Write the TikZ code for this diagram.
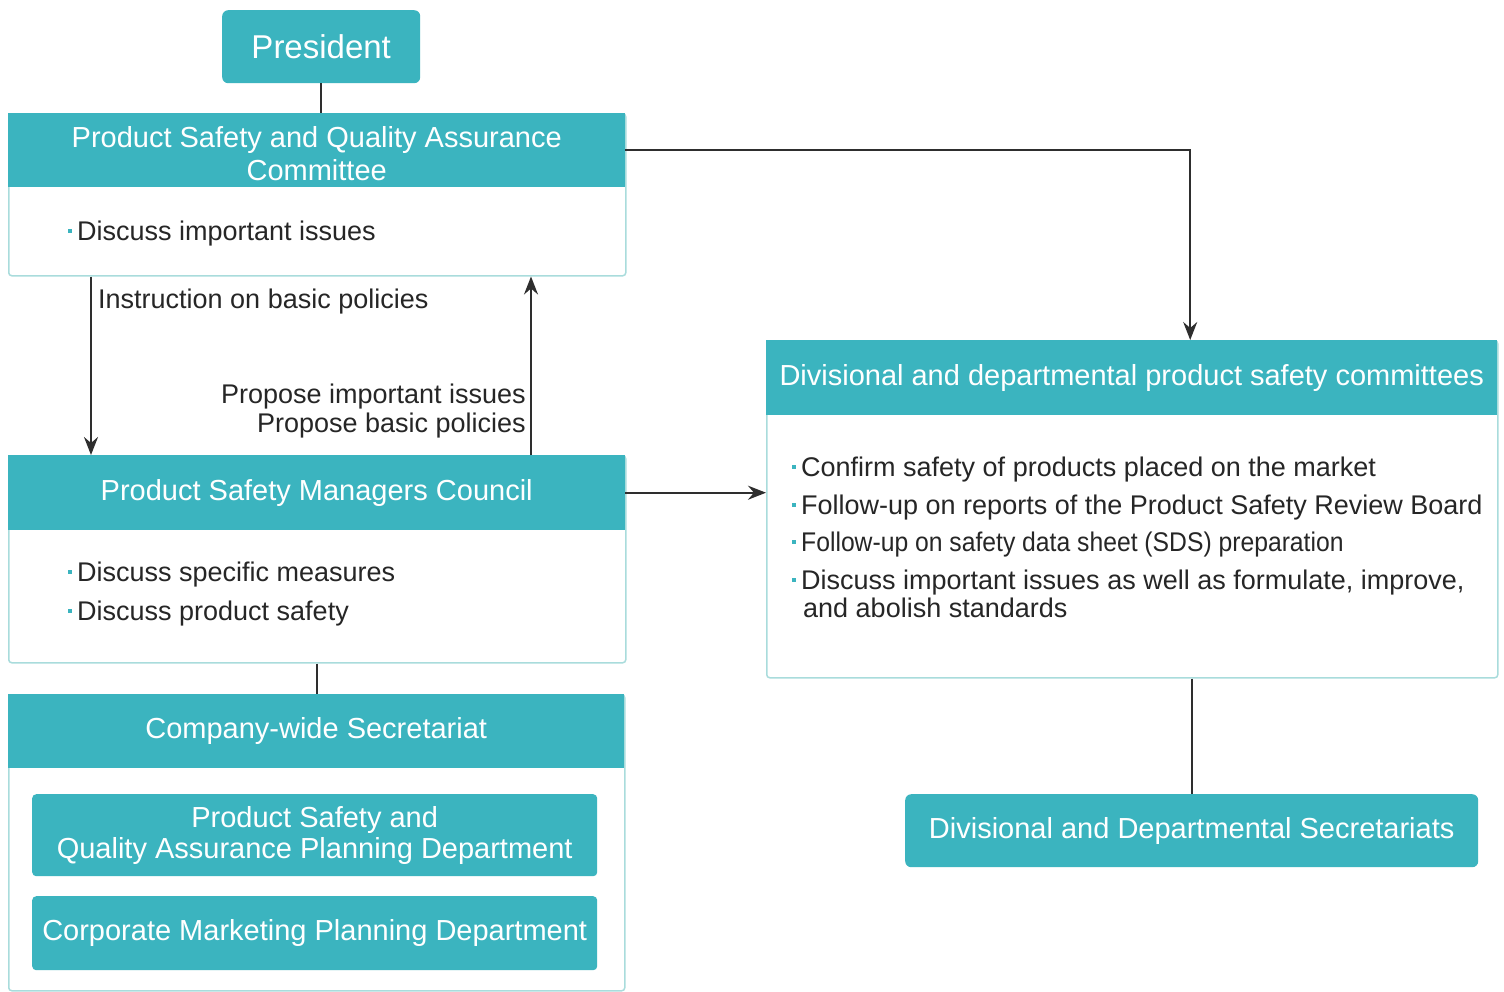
\documentclass[tikz,border=0pt]{standalone}
\usepackage{fontspec}
\setmainfont{Liberation Sans}
\usetikzlibrary{arrows.meta}
\definecolor{tealc}{HTML}{3BB4BF}
\definecolor{edgec}{HTML}{A9DCDC}
\definecolor{linec}{HTML}{2E2E2E}
\newcommand{\bul}{{\color{tealc}\raisebox{0.26em}{\rule{4pt}{4pt}}\hspace{5pt}}}
\begin{document}
\begin{tikzpicture}[x=1pt,y=-1pt,
  panel/.style={draw=edgec, line width=1.5pt, fill=white, rounded corners=3pt, anchor=north west, inner sep=0pt},
  head/.style={fill=tealc, anchor=north west, inner sep=0pt, text=white, align=center,
     font=\fontsize{29}{33}\selectfont},
  tbox/.style={head, rounded corners=6pt},
  body/.style={anchor=base west, inner sep=0pt, font=\fontsize{27}{29}\selectfont, text=black!85},
  lbl/.style={inner sep=0pt, font=\fontsize{27}{29}\selectfont, text=black!85},
  conn/.style={draw=linec, line width=2pt},
  arr/.style={conn, -{Stealth[length=18pt,width=14pt,inset=6pt]}}]
\useasboundingbox (0,0) rectangle (1504,991);
\fill[white] (0,0) rectangle (1504,991);

% President
\node[tbox, minimum width=198pt, minimum height=73pt, font=\fontsize{33}{36}\selectfont] (pres) at (222,10) {President};

% Product Safety and Quality Assurance Committee
\node[panel, minimum width=617pt, minimum height=162pt] (psq) at (8,113) {};
\node[head, minimum width=617pt, minimum height=74pt] (psqH) at (8,113) {};
\node[align=center, inner sep=0pt, text=white, font=\fontsize{29}{33}\selectfont] (psqT)
  at ([yshift=-3pt]psqH.center) {Product Safety and Quality Assurance\\Committee};
\node[body] (psqB) at (68,240) {\bul Discuss important issues};

% Product Safety Managers Council
\node[panel, minimum width=617pt, minimum height=207pt] (psm) at (8,455) {};
\node[head, minimum width=617pt, minimum height=75pt] (psmH) at (8,455) {Product Safety Managers Council};
\node[body] (psmB1) at (68,581) {\bul Discuss specific measures};
\node[body] (psmB2) at (68,620) {\bul Discuss product safety};

% Company-wide Secretariat
\node[panel, minimum width=616pt, minimum height=296pt] (cws) at (8,694) {};
\node[head, minimum width=616pt, minimum height=74pt] (cwsH) at (8,694) {Company-wide Secretariat};
\node[tbox, rounded corners=4pt, minimum width=565pt, minimum height=82pt] (dep1) at (32,794)
  {Product Safety and\\[-2pt]Quality Assurance Planning Department};
\node[tbox, rounded corners=4pt, minimum width=565pt, minimum height=74pt] (dep2) at (32,896)
  {Corporate Marketing Planning Department};

% Divisional and departmental product safety committees
\node[panel, minimum width=731pt, minimum height=337pt] (dd) at (766,340) {};
\node[head, minimum width=731pt, minimum height=75pt] (ddH) at (766,340)
  {Divisional and departmental product safety committees};
\node[body] (ddB1) at (792,476) {\bul Confirm safety of products placed on the market};
\node[body] (ddB2) at (792,514) {\bul Follow-up on reports of the Product Safety Review Board};
\node[body] (ddB3) at (792,551) {\bul \scalebox{0.915}[1]{Follow-up on safety data sheet (SDS) preparation}};
\node[body] (ddB4) at (792,589) {\bul Discuss important issues as well as formulate, improve,};
\node[body] (ddB5) at (803,617) {and abolish standards};

% Divisional and Departmental Secretariats
\node[tbox, minimum width=573pt, minimum height=73pt] (dds) at (905,794)
  {Divisional and Departmental Secretariats};

% Labels
\node[lbl, anchor=base west] (l1) at (98,308) {Instruction on basic policies};
\node[lbl, anchor=base east] (l2) at (526,403) {Propose important issues};
\node[lbl, anchor=base east] (l3) at (526,432) {Propose basic policies};

% Connectors
\draw[conn] (pres.south) -- (pres.south |- psq.north);
\draw[arr] ([xshift=83pt]psq.south west) -- ([xshift=83pt]psmH.north west);
\draw[arr] ([xshift=523pt]psmH.north west) -- ([xshift=523pt]psq.south west);
\draw[conn] (psm.south) -- (psm.south |- cws.north);
\coordinate (ddTop) at ([xshift=58.5pt]ddH.north);
\draw[arr] (psqH.east) -| (ddTop);
\draw[arr] (psmH.east) -- (psmH.east -| dd.west);
\draw[conn] (dds.north |- dd.south) -- (dds.north);
\end{tikzpicture}
\end{document}
